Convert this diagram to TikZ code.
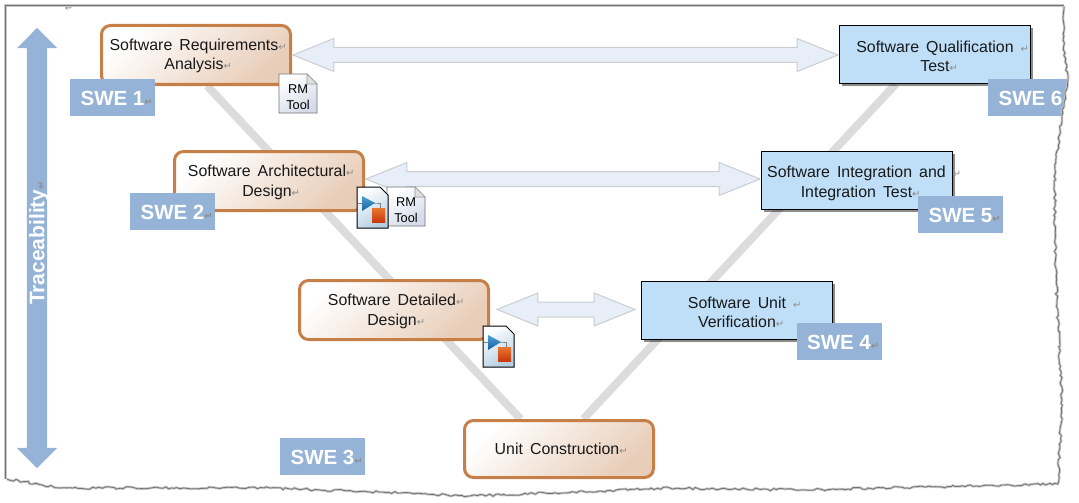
\documentclass[tikz,border=0pt]{standalone}
\usepackage{fontspec}
\setmainfont{Liberation Sans}
\newfontfamily\markfont{DejaVu Sans}
\newfontfamily\boxfont[WordSpace=1.6]{Liberation Sans}
\usepackage{xcolor}
\usetikzlibrary{
  calc, positioning, backgrounds, shadows, shapes.arrows, decorations.pathmorphing
}
\definecolor{tagblue}{HTML}{95B3D7}
\definecolor{softedge}{HTML}{C77F48}
\definecolor{softend}{HTML}{E8CDB8}
\definecolor{testfill}{HTML}{BEDFF7}
\definecolor{linkfill}{HTML}{E8EEF7}
\definecolor{linkedge}{HTML}{C9CDD2}
\definecolor{legcolor}{HTML}{DCDCDC}
\definecolor{rmend}{HTML}{D3DAE8}
\definecolor{simend}{HTML}{B4CFE2}
\definecolor{triup}{HTML}{4AA3D8}
\definecolor{tridown}{HTML}{1C5E9E}
\definecolor{squp}{HTML}{E8772E}
\definecolor{sqdown}{HTML}{C8380E}
\newcommand{\retmark}{{\markfont\fontsize{10}{10}\selectfont\textcolor{black!45}{↵}}}
\newcommand{\tagmark}{\rlap{\retmark}}
\newcommand{\softmark}{\rlap{\retmark}\hspace*{4pt}}
\newcommand{\gapmark}{\rlap{\ \retmark}}
\newcommand{\tornpath}{(1064,6) -- (1063,40) -- (1068,80) -- (1062,115) -- (1055,170) -- (1055,240)
  -- (1057,300) -- (1062,400) -- (1058,484) -- (800,490) -- (670,488) -- (600,491) -- (470,496)
  -- (400,493) -- (270,488) -- (60,488) -- (7,479)}
\tikzset{
  softbox/.style={draw=softedge, line width=3pt, rounded corners=9pt, inner sep=0pt,
    minimum width=189pt, minimum height=59pt, align=center,
    left color=white, right color=softend, shading angle=42,
    text height=30pt, text depth=0pt,
    font=\boxfont\fontsize{15.9}{19.5}\selectfont, text=black!90},
  testbox/.style={draw=black, line width=1pt, fill=testfill, inner sep=0pt,
    minimum width=191pt, minimum height=58pt, align=center,
    drop shadow={shadow xshift=2.5pt, shadow yshift=-2.5pt, opacity=.45, fill=black},
    text height=34pt, text depth=0pt,
    font=\boxfont\fontsize{15.9}{19.5}\selectfont, text=black!90},
  swetag/.style={fill=tagblue, text=white, inner sep=0pt, minimum width=85pt, minimum height=37pt,
    text height=16.5pt, font=\fontsize{20.5}{24}\selectfont\bfseries},
  linkarrow/.style={double arrow, draw=linkedge, line width=1pt, fill=linkfill, inner xsep=0pt,
    inner ysep=7pt, double arrow head extend=9pt, double arrow tip angle=44},
  vleg/.style={draw=legcolor, line width=8pt},
  tornline/.style={decorate, decoration={random steps, segment length=3pt, amplitude=1.2pt}},
  rmpaper/.style={draw=black!55, line width=.8pt, left color=white, right color=rmend, shading angle=30},
  rmdoc/.pic={
    \draw[rmpaper] (0,0) -- (28,0) -- (38,10) -- (38,39) -- (0,39) -- cycle;
    \draw[draw=black!40, fill=black!12, line width=.6pt] (28,0) -- (28,10) -- (38,10) -- cycle;
    \node[inner sep=0pt, align=center, font=\fontsize{12.8}{15.5}\selectfont] (-text) at (19,23) {RM\\Tool};
  },
  simdoc/.pic={
    \draw[draw=black, line width=1pt, left color=white, right color=simend, shading angle=30]
      (0,0) -- (23,0) -- (31,8) -- (31,41) -- (0,41) -- cycle;
    \draw[draw=black!50, line width=.5pt] (1,16) -- (18,16) -- (23,16) -- (23,22);
    \shade[top color=triup, bottom color=tridown] (5,9) -- (18,16) -- (5,24) -- cycle;
    \shade[top color=squp, bottom color=sqdown] (15,21) rectangle (28,35);
  }
}

\begin{document}
\begin{tikzpicture}[x=1pt, y=-1pt]
\useasboundingbox (0,0) rectangle (1079,503);

% Traceability bar
\node[double arrow, fill=tagblue, inner xsep=0pt, inner ysep=10pt, double arrow head extend=10pt,
  double arrow tip angle=90, minimum height=440pt, rotate=90] (trace) at (37,248) {};
\node[rotate=90, text=white, font=\fontsize{21}{24}\selectfont\bfseries] (tracetext) at (39,243) {Traceability\retmark};

% Left side
\node[softbox] (req) at (196,55) {Software Requirements\softmark\\Analysis\softmark};
\node[softbox] (arch) at (269,181) {Software Architectural\softmark\\Design\softmark};
\node[softbox] (detail) at (394,310) {Software Detailed\softmark\\Design\softmark};

% Bottom
\node[softbox, minimum height=57pt, text height=10pt] (unit) at (559,449) {Unit Construction\softmark};

% Right side
\node[testbox] (verif) at (737,310.5) {Software Unit\gapmark\\Verification\tagmark};
\node[testbox] (integ) at (856.5,180) {Software Integration and\gapmark\\Integration Test\tagmark};
\node[testbox] (qual) at (935,54.5) {Software Qualification\gapmark\\Test\tagmark};

% V legs
\begin{pgfonlayer}{background}
\draw[vleg] (req.-70) -- (unit.142);
\draw[vleg] (qual.217) -- (unit.51);
\end{pgfonlayer}

% Links across
\node[linkarrow, minimum height=545pt] (linktop) at (565.5,55) {};
\node[linkarrow, minimum height=394pt] (linkmid) at (563,179) {};
\node[linkarrow, minimum height=138pt] (linklow) at (566,309.5) {};

% SWE tags
\node[swetag] (swe1) at (112.5,97.5) {SWE 1\tagmark};
\node[swetag] (swe2) at (172.5,211.5) {SWE 2\tagmark};
\node[swetag] (swe3) at (322.5,456) {SWE 3\tagmark};
\node[swetag] (swe4) at (839,341.5) {SWE 4\tagmark};
\node[swetag] (swe5) at (960.5,214.5) {SWE 5\tagmark};
\node[swetag] (swe6) at (1030.5,97.5) {SWE 6};

% Tool icons
\pic (rmone) at (279,74) {rmdoc};
\pic (rmtwo) at (387,187) {rmdoc};
\pic (simone) at (357,187) {simdoc};
\pic (simtwo) at (483,326) {simdoc};

% Stray mark
\node[inner sep=0pt] (stray) at (69,8) {\retmark};

% Torn page edge
\pgfmathsetseed{11}
\fill[white, tornline] \tornpath -- (-10,520) -- (1100,520) -- (1100,-10) -- cycle;
\pgfmathsetseed{11}
\draw[black!22, line width=2.5pt, tornline] \tornpath;
\pgfmathsetseed{11}
\draw[black!55, line width=.8pt, tornline] \tornpath;
\draw[black!22, line width=2.5pt] (5.5,479) -- (5.5,5.5) -- (1064,5.5);
\draw[black!55, line width=.9pt] (5.5,479) -- (5.5,5.5) -- (1064,5.5);
\end{tikzpicture}
\end{document}
